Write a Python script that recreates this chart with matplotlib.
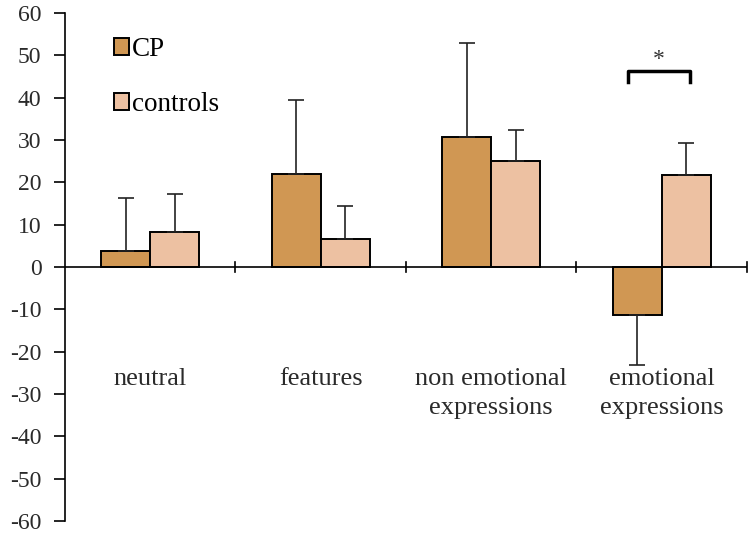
import matplotlib.pyplot as plt
import numpy as np

categories = ["neutral", "features", "non emotional\nexpressions", "emotional\nexpressions"]
cp_mean = [3.8, 22.0, 30.8, -11.4]
cp_err = [12.5, 17.5, 22.0, 11.8]
ctrl_mean = [8.3, 6.7, 25.1, 21.7]
ctrl_err = [8.9, 7.8, 7.3, 7.5]
yticks = [-60, -50, -40, -30, -20, -10, 0, 10, 20, 30, 40, 50, 60]

cp_color = '#D09753'
ctrl_color = '#EDC1A2'

plt.rcParams['font.family'] = ['Liberation Serif', 'DejaVu Serif']

fig = plt.figure(figsize=(7.56, 5.4), dpi=100)
ax = fig.add_axes([0.086, 0.035, 0.902, 0.941])

x = np.arange(len(categories)) + 0.5
w = 0.287

# one-sided error bars (in direction of the mean)
cp_yerr = [[e if m < 0 else 0 for m, e in zip(cp_mean, cp_err)],
           [e if m >= 0 else 0 for m, e in zip(cp_mean, cp_err)]]
ctrl_yerr = [[0] * len(ctrl_err), ctrl_err]

ax.bar(x - w / 2, cp_mean, w, color=cp_color, edgecolor='black', linewidth=1.4,
       yerr=cp_yerr, error_kw=dict(ecolor='#222222', elinewidth=1.2, capsize=6, capthick=1.2),
       label='CP', zorder=3)
ax.bar(x + w / 2, ctrl_mean, w, color=ctrl_color, edgecolor='black', linewidth=1.4,
       yerr=ctrl_yerr, error_kw=dict(ecolor='#222222', elinewidth=1.2, capsize=6, capthick=1.2),
       label='controls', zorder=3)

ax.set_xlim(0, len(categories))
ax.set_ylim(-60, 60)
ax.set_yticks(yticks)
ax.set_yticklabels([str(t) for t in yticks], fontsize=17, color='#2a2a2a')
ax.tick_params(axis='y', length=8, width=1.2, pad=9)
ax.set_xticks([])

for s in ['top', 'right', 'bottom']:
    ax.spines[s].set_visible(False)
ax.spines['left'].set_linewidth(1.2)

# zero line with crossing ticks at the category boundaries
ax.axhline(0, color='black', linewidth=1.2, zorder=4)
for b in range(1, len(categories) + 1):
    ax.plot([b, b], [-1.2, 1.2], color='black', linewidth=1.2, zorder=4, clip_on=False)

for xi, lab in zip(x, categories):
    ax.text(xi, -23.8, lab, ha='center', va='top', fontsize=19, color='#2a2a2a',
            linespacing=1.45)

# significance bracket
bx0, bx1 = 3.3, 3.665
ax.plot([bx0, bx0, bx1, bx1], [43.8, 46.2, 46.2, 43.8], color='black', linewidth=2.5,
        solid_joinstyle='round', zorder=4)
ax.text((bx0 + bx1) / 2, 49, '*', ha='center', va='center', fontsize=17, color='#333333')

leg = ax.legend(loc='upper left', bbox_to_anchor=(0.036, 1.0), frameon=False, fontsize=19.5,
                handlelength=0.55, handleheight=0.6, handletextpad=0.1, labelspacing=1.1)

fig.savefig('out.png', dpi=100)
